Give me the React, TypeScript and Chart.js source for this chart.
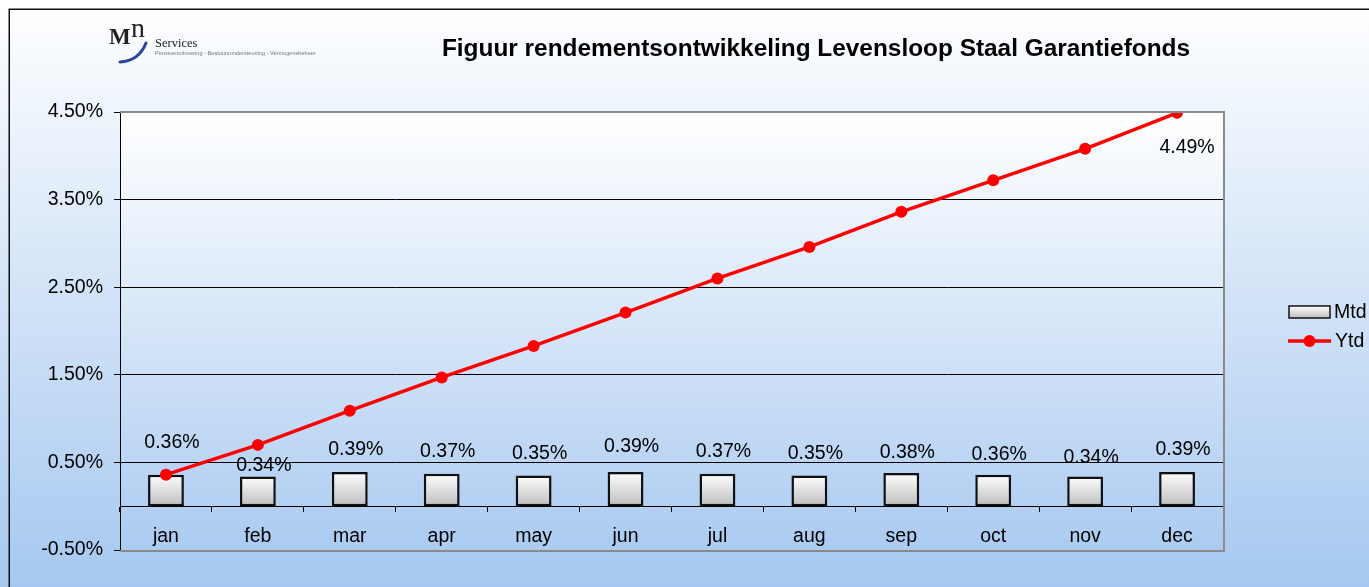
import React, { useEffect, useRef } from 'react';
import { Chart, registerables } from 'chart.js';

Chart.register(...registerables);

const months = ['jan', 'feb', 'mar', 'apr', 'may', 'jun', 'jul', 'aug', 'sep', 'oct', 'nov', 'dec'];
const mtd = [0.36, 0.34, 0.39, 0.37, 0.35, 0.39, 0.37, 0.35, 0.38, 0.36, 0.34, 0.39];
const ytd = [0.36, 0.70, 1.09, 1.47, 1.83, 2.21, 2.60, 2.96, 3.36, 3.72, 4.08, 4.49];
const yTicks = [-0.5, 0.5, 1.5, 2.5, 3.5, 4.5];
const seriesNames = ['Mtd', 'Ytd'];
const title = 'Figuur rendementsontwikkeling Levensloop Staal Garantiefonds';
const logoMain = 'M';
const logoSup = 'n';
const logoWord = 'Services';
const logoTag = 'Pensioenuitvoering - Bestuursondersteuning - Vermogensbeheer';

// label nudges (styling only): extra vertical shift per Mtd label
const mtdLabelNudge = [-9, 12, 1, 1, 1, -2, 1, 1, 3, 3, 4, 1];

const FONT = '"Liberation Sans", Arial, sans-serif';
const SERIF = '"Liberation Serif", "Times New Roman", serif';
const FS = 19.5;
const fmt = (v: number) => v.toFixed(2) + '%';

const barGradient = (ctx: CanvasRenderingContext2D, top: number, bottom: number) => {
  if (!Number.isFinite(top) || !Number.isFinite(bottom) || top === bottom) return '#dddddd';
  const g = ctx.createLinearGradient(0, top, 0, bottom);
  g.addColorStop(0, '#ffffff');
  g.addColorStop(1, '#bdbdbd');
  return g;
};

const decor = {
  id: 'decor',
  beforeDraw(chart: any) {
    const { ctx, width, height, chartArea: a } = chart;
    ctx.save();
    let g = ctx.createLinearGradient(0, 0, 0, height);
    g.addColorStop(0, '#ffffff');
    g.addColorStop(1, '#a6c8f0');
    ctx.fillStyle = g;
    ctx.fillRect(0, 0, width, height);
    g = ctx.createLinearGradient(0, a.top, 0, a.bottom);
    g.addColorStop(0, '#ffffff');
    g.addColorStop(1, '#abcbf1');
    ctx.fillStyle = g;
    ctx.fillRect(a.left, a.top, a.right - a.left, a.bottom - a.top);

    // outer frame
    ctx.strokeStyle = '#111';
    ctx.lineWidth = 1.5;
    ctx.beginPath();
    ctx.moveTo(9.25, height);
    ctx.lineTo(9.25, 9.25);
    ctx.lineTo(width, 9.25);
    ctx.stroke();

    // title
    ctx.fillStyle = '#000';
    ctx.font = `bold 24.4px ${FONT}`;
    ctx.textAlign = 'center';
    ctx.textBaseline = 'middle';
    ctx.fillText(title, 816, 49);

    // logo
    ctx.textAlign = 'left';
    ctx.textBaseline = 'alphabetic';
    ctx.fillStyle = '#222';
    ctx.font = `bold 23px ${SERIF}`;
    ctx.fillText(logoMain, 109, 44);
    ctx.font = `28px ${SERIF}`;
    ctx.fillText(logoSup, 131, 37);
    ctx.font = `12.5px ${SERIF}`;
    ctx.fillText(logoWord, 155, 47);
    ctx.fillStyle = '#777';
    ctx.font = `5.6px ${FONT}`;
    ctx.fillText(logoTag, 155, 55);
    ctx.strokeStyle = '#27459c';
    ctx.lineWidth = 3;
    ctx.lineCap = 'round';
    ctx.beginPath();
    ctx.moveTo(120, 62);
    ctx.quadraticCurveTo(139, 61, 146, 43);
    ctx.stroke();
    ctx.restore();
  },
  afterDatasetsDraw(chart: any) {
    const { ctx } = chart;
    ctx.save();
    ctx.fillStyle = '#000';
    ctx.font = `${FS}px ${FONT}`;
    ctx.textAlign = 'center';
    ctx.textBaseline = 'middle';
    const barMeta = chart.getDatasetMeta(0);
    barMeta.data.forEach((el: any, i: number) => {
      ctx.fillText(fmt(mtd[i]), el.x + 6, el.y - 23 + mtdLabelNudge[i]);
    });
    const lineMeta = chart.getDatasetMeta(1);
    const last = lineMeta.data.length - 1;
    const p = lineMeta.data[last];
    ctx.fillText(fmt(ytd[last]), p.x + 10, p.y + 35);
    ctx.restore();
  },
  afterDraw(chart: any) {
    const { ctx, chartArea: a } = chart;
    ctx.save();
    ctx.strokeStyle = '#8a8a8a';
    ctx.lineWidth = 2;
    ctx.beginPath();
    ctx.moveTo(a.left, a.top);
    ctx.lineTo(a.right + 1, a.top);
    ctx.lineTo(a.right + 1, a.bottom + 1);
    ctx.lineTo(a.left, a.bottom + 1);
    ctx.stroke();

    // legend
    ctx.font = `${FS}px ${FONT}`;
    ctx.textAlign = 'left';
    ctx.textBaseline = 'middle';
    ctx.fillStyle = barGradient(ctx, 306, 318);
    ctx.fillRect(1289, 306, 41, 12);
    ctx.strokeStyle = '#111';
    ctx.lineWidth = 1.5;
    ctx.strokeRect(1289, 306, 41, 12);
    ctx.fillStyle = '#000';
    ctx.fillText(seriesNames[0], 1334, 313);
    ctx.strokeStyle = '#ff0000';
    ctx.lineWidth = 3.5;
    ctx.beginPath();
    ctx.moveTo(1288, 341);
    ctx.lineTo(1331, 341);
    ctx.stroke();
    ctx.fillStyle = '#ff0000';
    ctx.beginPath();
    ctx.arc(1309.5, 341, 6, 0, Math.PI * 2);
    ctx.fill();
    ctx.fillStyle = '#000';
    ctx.fillText(seriesNames[1], 1335, 342);
    ctx.restore();
  },
};

export default function App() {
  const ref = useRef<HTMLCanvasElement | null>(null);
  useEffect(() => {
    if (!ref.current) return;
    const chart = new Chart(ref.current, {
      type: 'bar',
      data: {
        labels: months,
        datasets: [
          {
            type: 'bar',
            label: seriesNames[0],
            data: mtd,
            backgroundColor: (c: any) => {
              const y = c.chart.scales?.y;
              if (!y || c.raw == null || !c.chart.chartArea) return '#dddddd';
              return barGradient(c.chart.ctx, y.getPixelForValue(c.raw), y.getPixelForValue(0));
            },
            borderColor: '#111',
            borderWidth: 2.5,
            borderSkipped: false,
            barPercentage: 0.39,
            categoryPercentage: 1,
            order: 2,
          } as any,
          {
            type: 'line',
            label: seriesNames[1],
            data: ytd,
            borderColor: '#ff0000',
            backgroundColor: '#ff0000',
            borderWidth: 3.5,
            tension: 0,
            pointRadius: 6,
            pointBorderWidth: 0,
            pointBackgroundColor: '#ff0000',
            order: 1,
          } as any,
        ],
      },
      options: {
        animation: false,
        responsive: false,
        devicePixelRatio: 1,
        events: [],
        layout: { padding: { left: 0, top: 112, right: 146, bottom: 37 } },
        plugins: { legend: { display: false }, tooltip: { enabled: false }, title: { display: false } },
        scales: {
          x: {
            position: { y: 0 } as any,
            offset: true,
            grid: {
              offset: true,
              drawOnChartArea: false,
              drawTicks: true,
              tickLength: 5,
              tickColor: '#000',
            },
            border: { display: true, color: '#000', width: 1 },
            ticks: { color: '#000', font: { family: FONT, size: FS }, padding: 14, maxRotation: 0 },
          },
          y: {
            min: -0.5,
            max: 4.5,
            afterBuildTicks: (s: any) => {
              s.ticks = yTicks.map((v) => ({ value: v }));
            },
            afterFit: (s: any) => {
              s.width = 120;
            },
            grid: {
              color: (c: any) => (c.tick && (c.tick.value === yTicks[0] || c.tick.value === yTicks[yTicks.length - 1]) ? '#8a8a8a' : '#000'),
              lineWidth: 1,
              tickLength: 6,
              tickColor: '#000',
            },
            border: { display: true, color: '#000', width: 1 },
            ticks: {
              color: '#000',
              font: { family: FONT, size: FS },
              padding: 11,
              callback: (v: any) => fmt(Number(v)),
            },
          },
        },
      },
      plugins: [decor],
    });
    return () => chart.destroy();
  }, []);
  return (
    <div style={{ position: 'fixed', left: 0, top: 0, width: 1369, height: 587 }}>
      <canvas ref={ref} width={1369} height={587} style={{ display: 'block', width: 1369, height: 587 }} />
    </div>
  );
}
